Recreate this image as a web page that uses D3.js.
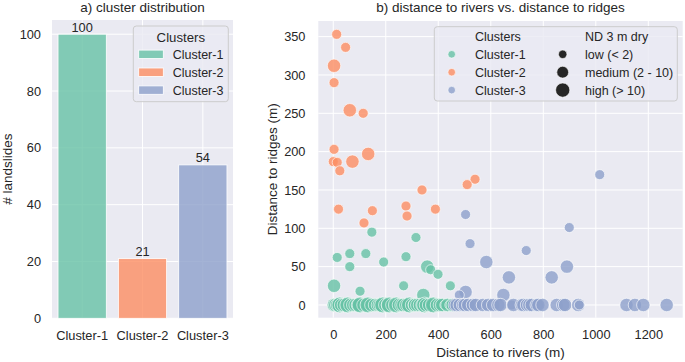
<!DOCTYPE html>
<html>
<head>
<meta charset="utf-8">
<script src="https://cdn.jsdelivr.net/npm/d3@7"></script>
<style>
body{margin:0;background:#fff;}
svg text{font-family:"Liberation Sans",Arial,sans-serif;fill:#262626;}
</style>
</head>
<body>
<svg id="chart" width="685" height="362"></svg>
<script>
// ---------- data ----------
const clusterNames = ["Cluster-1", "Cluster-2", "Cluster-3"];
const clusterCounts = [100, 21, 54];
const clusterColors = ["#66c2a5", "#fc8d62", "#8da0cb"];
const barTicks = [0, 20, 40, 60, 80, 100];

const riverTicks = [0, 200, 400, 600, 800, 1000, 1200];
const ridgeTicks = [0, 50, 100, 150, 200, 250, 300, 350];

const sizeLabels = ["low (< 2)", "medium (2 - 10)", "high (> 10)"];

// Cluster-1 (distance to rivers, distance to ridges, ND class 0/1/2)
const c1Rivers = [147, 315, 15, 63, 124, 63, 192, 277, 358, 371, 399, 3, 102, 268, 446, 343,
  2, 8, 15, 25, 30, 40, 53, 55, 65, 76, 85, 94, 102, 115, 130, 132, 145, 159, 170, 177, 188,
  198, 208, 213, 225, 239, 240, 250, 260, 267, 278, 290, 300, 310, 311, 320, 330, 340, 348,
  353, 365, 380, 381, 395, 405, 406, 415, 425, 435, 444, 455];
const c1Ridges = [95, 88, 62, 67, 67, 50, 56, 63, 50, 46, 40, 25, 18, 25, 25, 13,
  0, 0, 0, 0, 0, 0, 0, 0, 0, 0, 0, 0, 0, 0, 0, 0, 0, 0, 0, 0, 0,
  0, 0, 0, 0, 0, 0, 0, 0, 0, 0, 0, 0, 0, 0, 0, 0, 0, 0,
  0, 0, 0, 0, 0, 0, 0, 0, 0, 0, 0, 0];
const c1Size = [0, 0, 0, 0, 0, 0, 0, 0, 1, 0, 0, 1, 0, 0, 0, 1,
  1, 1, 1, 2, 1, 1, 1, 2, 1, 1, 1, 1, 2, 1, 1, 2, 1, 1, 1, 1, 2,
  1, 1, 2, 1, 1, 2, 1, 1, 1, 1, 2, 1, 1, 1, 1, 1, 1, 2,
  1, 1, 1, 2, 1, 0, 1, 1, 0, 1, 0, 1];

// Cluster-2
const c2Rivers = [13, 47, 3, 3, 63, 114, 3, 0, 15, 73, 133, 25, 540, 510, 338, 20, 149, 277, 281, 389, 117];
const c2Ridges = [353, 336, 312, 290, 254, 250, 203, 187, 186, 187, 197, 175, 164, 157, 150, 125, 123, 129, 116, 125, 107];
const c2Size = [0, 0, 1, 0, 1, 0, 0, 0, 0, 1, 1, 0, 0, 0, 0, 0, 0, 0, 0, 0, 0];

// Cluster-3
const c3Rivers = [1015, 504, 521, 899, 735, 583, 890, 669, 832, 504, 648, 480,
  463, 470, 482, 495, 501, 514, 532, 543, 570, 590, 609, 629, 637, 680, 686, 718, 724,
  738, 747, 756, 775, 781, 797, 851, 876, 883, 933, 937, 1117, 1149, 1181, 1270];
const c3Ridges = [170, 118, 80, 101, 71, 56, 50, 36, 36, 17, 13, 13,
  0, 0, 0, 0, 0, 0, 0, 0, 0, 0, 0, 0, 0, 0, 0, 0, 0,
  0, 0, 0, 0, 0, 0, 0, 0, 0, 0, 0, 0, 0, 0, 0];
const c3Size = [0, 0, 0, 0, 0, 1, 1, 1, 1, 1, 1, 0,
  1, 1, 1, 1, 1, 1, 1, 1, 1, 1, 1, 1, 1, 0, 1, 1, 1,
  1, 1, 1, 1, 1, 1, 1, 1, 1, 1, 0, 1, 1, 1, 1];

// ---------- drawing ----------
const svg = d3.select("#chart");
const BG = "#eaeaf2";
const TXT = "#262626";
const ALPHA = 0.8;
const FONT = "Liberation Sans, Arial, sans-serif";
const radius = d3.scaleOrdinal().domain([0, 1, 2]).range([5, 6.7, 7.9]);

// ===== Panel a =====
const aL = 52, aR = 233, aT = 20, aB = 318.3;
const xA = d3.scaleBand().domain(clusterNames).range([aL, aR]).paddingInner(0.2).paddingOuter(0.1);
const yA = d3.scaleLinear().domain([0, 105]).range([aB, aT]);

svg.append("rect").attr("x", aL).attr("y", aT).attr("width", aR - aL).attr("height", aB - aT).attr("fill", BG);
const gA = svg.append("g");
gA.selectAll(".hg").data(barTicks).join("line")
  .attr("x1", aL).attr("x2", aR).attr("y1", d => yA(d)).attr("y2", d => yA(d))
  .attr("stroke", "#fff").attr("stroke-width", 1);
gA.selectAll(".vg").data(clusterNames).join("line")
  .attr("x1", d => xA(d) + xA.bandwidth() / 2).attr("x2", d => xA(d) + xA.bandwidth() / 2)
  .attr("y1", aT).attr("y2", aB).attr("stroke", "#fff").attr("stroke-width", 1);

gA.selectAll(".bar").data(clusterNames).join("rect")
  .attr("x", d => xA(d)).attr("width", xA.bandwidth())
  .attr("y", (d, i) => yA(clusterCounts[i])).attr("height", (d, i) => yA(0) - yA(clusterCounts[i]))
  .attr("fill", (d, i) => clusterColors[i]).attr("fill-opacity", ALPHA)
  .attr("stroke", "#fff").attr("stroke-width", 0.8);

gA.selectAll(".blab").data(clusterNames).join("text")
  .attr("x", d => xA(d) + xA.bandwidth() / 2).attr("y", (d, i) => yA(clusterCounts[i]) - 2.5)
  .attr("text-anchor", "middle").attr("font-size", 12.8).text((d, i) => clusterCounts[i]);

// axes
const axA_y = d3.axisLeft(yA).tickValues(barTicks).tickSize(0).tickPadding(0);
const gAy = svg.append("g").attr("transform", `translate(${aL - 11},0)`).call(axA_y);
gAy.select(".domain").remove();
gAy.selectAll("text").attr("font-size", 12.8).attr("fill", TXT).attr("font-family", FONT);

const axA_x = d3.axisBottom(xA).tickSize(0).tickPadding(0);
const gAx = svg.append("g").attr("transform", `translate(0,${aB + 12.5})`).call(axA_x);
gAx.select(".domain").remove();
gAx.selectAll("text").attr("font-size", 12.8).attr("fill", TXT).attr("font-family", FONT);

svg.append("text").attr("x", (aL + aR) / 2).attr("y", 12).attr("text-anchor", "middle")
  .attr("font-size", 13.5).text("a) cluster distribution");
svg.append("text").attr("transform", `translate(12,${(aT + aB) / 2}) rotate(-90)`)
  .attr("text-anchor", "middle").attr("font-size", 13.5).text("# landslides");

// legend a
const lgA = svg.append("g");
lgA.append("rect").attr("x", 133.3).attr("y", 26).attr("width", 95).attr("height", 75.7).attr("rx", 3)
  .attr("fill", BG).attr("fill-opacity", 0.8).attr("stroke", "#cccccc").attr("stroke-width", 1);
lgA.append("text").attr("x", 180.8).attr("y", 41.7).attr("text-anchor", "middle").attr("font-size", 13.2).text("Clusters");
clusterNames.forEach((c, i) => {
  const cy = 54.3 + i * 17.9;
  lgA.append("rect").attr("x", 138.7).attr("y", cy - 4.2).attr("width", 24.6).attr("height", 8.4)
    .attr("fill", clusterColors[i]).attr("fill-opacity", ALPHA).attr("stroke", "#fff").attr("stroke-width", 0.8);
  lgA.append("text").attr("x", 172.7).attr("y", cy + 4.4).attr("font-size", 12.5).text(c);
});

// ===== Panel b =====
const bL = 318.3, bR = 682.7, bT = 21, bB = 317.7;
const xB = d3.scaleLinear().domain([-57, 1331]).range([bL, bR]);
const yB = d3.scaleLinear().domain([-16.6, 370.4]).range([bB, bT]);

svg.append("rect").attr("x", bL).attr("y", bT).attr("width", bR - bL).attr("height", bB - bT).attr("fill", BG);
const gB = svg.append("g");
gB.selectAll(".hg").data(ridgeTicks).join("line")
  .attr("x1", bL).attr("x2", bR).attr("y1", d => yB(d)).attr("y2", d => yB(d))
  .attr("stroke", "#fff").attr("stroke-width", 1);
gB.selectAll(".vg").data(riverTicks).join("line")
  .attr("x1", d => xB(d)).attr("x2", d => xB(d)).attr("y1", bT).attr("y2", bB)
  .attr("stroke", "#fff").attr("stroke-width", 1);

const series = [
  { rivers: c1Rivers, ridges: c1Ridges, size: c1Size, color: clusterColors[0] },
  { rivers: c2Rivers, ridges: c2Ridges, size: c2Size, color: clusterColors[1] },
  { rivers: c3Rivers, ridges: c3Ridges, size: c3Size, color: clusterColors[2] }
];
series.forEach(s => {
  const pts = s.rivers.map((r, i) => ({ x: r, y: s.ridges[i], s: s.size[i] }));
  gB.append("g").selectAll("circle").data(pts).join("circle")
    .attr("cx", d => xB(d.x)).attr("cy", d => yB(d.y)).attr("r", d => radius(d.s))
    .attr("fill", s.color).attr("fill-opacity", ALPHA)
    .attr("stroke", "#fff").attr("stroke-width", 0.7).attr("stroke-opacity", 0.9);
});

const axB_y = d3.axisLeft(yB).tickValues(ridgeTicks).tickSize(0).tickPadding(0).tickFormat(d3.format("d"));
const gBy = svg.append("g").attr("transform", `translate(305.5,0)`).call(axB_y);
gBy.select(".domain").remove();
gBy.selectAll("text").attr("font-size", 12.8).attr("fill", TXT).attr("font-family", FONT);

const axB_x = d3.axisBottom(xB).tickValues(riverTicks).tickSize(0).tickPadding(0).tickFormat(d3.format("d"));
const gBx = svg.append("g").attr("transform", `translate(0,${bB + 12.5})`).call(axB_x);
gBx.select(".domain").remove();
gBx.selectAll("text").attr("font-size", 12.8).attr("fill", TXT).attr("font-family", FONT);

svg.append("text").attr("x", (bL + bR) / 2).attr("y", 12).attr("text-anchor", "middle")
  .attr("font-size", 13.5).text("b) distance to rivers vs. distance to ridges");
svg.append("text").attr("x", (bL + bR) / 2).attr("y", 357).attr("text-anchor", "middle")
  .attr("font-size", 13.5).text("Distance to rivers (m)");
svg.append("text").attr("transform", `translate(277,${(bT + bB) / 2}) rotate(-90)`)
  .attr("text-anchor", "middle").attr("font-size", 13.5).text("Distance to ridges (m)");

// legend b
const lgB = svg.append("g");
lgB.append("rect").attr("x", 434.3).attr("y", 26.7).attr("width", 243).attr("height", 74.3).attr("rx", 3)
  .attr("fill", BG).attr("fill-opacity", 0.8).attr("stroke", "#cccccc").attr("stroke-width", 1);
lgB.append("text").attr("x", 475).attr("y", 40.5).attr("font-size", 12.5).text("Clusters");
lgB.append("text").attr("x", 585).attr("y", 40.5).attr("font-size", 12.5).text("ND 3 m dry");
clusterNames.forEach((c, i) => {
  const cy = 54.3 + i * 17.9;
  lgB.append("circle").attr("cx", 451.7).attr("cy", cy).attr("r", 3.8)
    .attr("fill", clusterColors[i]).attr("fill-opacity", ALPHA).attr("stroke", "#fff").attr("stroke-width", 0.6);
  lgB.append("text").attr("x", 475).attr("y", cy + 4.4).attr("font-size", 12.5).text(c);
});
sizeLabels.forEach((lab, i) => {
  const cy = 54.3 + i * 17.9;
  lgB.append("circle").attr("cx", 562.7).attr("cy", cy).attr("r", radius(i) - 0.8)
    .attr("fill", "#262626").attr("fill-opacity", 1).attr("stroke", "#fff").attr("stroke-width", 0.6);
  lgB.append("text").attr("x", 585).attr("y", cy + 4.4).attr("font-size", 12.5).text(lab);
});
</script>
</body>
</html>
